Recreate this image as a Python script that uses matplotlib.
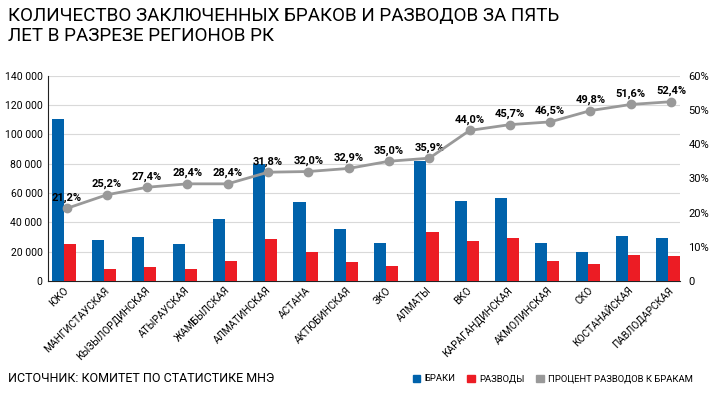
import matplotlib
matplotlib.use("Agg")
import matplotlib.pyplot as plt
from matplotlib.patches import Patch
import numpy as np

regions = ["ЮКО", "МАНГИСТАУСКАЯ", "КЫЗЫЛОРДИНСКАЯ", "АТЫРАУСКАЯ", "ЖАМБЫЛСКАЯ",
           "АЛМАТИНСКАЯ", "АСТАНА", "АКТЮБИНСКАЯ", "ЗКО", "АЛМАТЫ", "ВКО",
           "КАРАГАНДИНСКАЯ", "АКМОЛИНСКАЯ", "СКО", "КОСТАНАЙСКАЯ", "ПАВЛОДАРСКАЯ"]
marriages = [110500, 28000, 29800, 25400, 42500, 80000, 53900, 35700,
             25900, 81900, 54800, 56600, 26100, 19800, 30500, 29100]
divorces = [25500, 7900, 9300, 8000, 13600, 28900, 19500, 13200,
            10000, 33200, 27300, 29100, 13900, 11400, 18000, 17300]
percent = [21.2, 25.2, 27.4, 28.4, 28.4, 31.8, 32.0, 32.9,
           35.0, 35.9, 44.0, 45.7, 46.5, 49.8, 51.6, 52.4]
left_ticks = [0, 20000, 40000, 60000, 80000, 100000, 120000, 140000]
right_ticks = [0, 10, 20, 30, 40, 50, 60]

BLUE = "#0062AB"
RED = "#EC1C24"
GRAY = "#999999"
NARROW = ["Liberation Sans Narrow", "Roboto", "DejaVu Sans"]

fig = plt.figure(figsize=(7.2, 3.96), dpi=100)
ax = fig.add_axes([0.0667, 0.2904, 0.8777, 0.5184])
x = np.arange(len(regions))
w = 0.3
ax.bar(x - w / 2, marriages, width=w, color=BLUE, zorder=3)
ax.bar(x + w / 2, divorces, width=w, color=RED, zorder=3)
ax.set_ylim(0, 140000)
ax.set_xlim(-0.39, 15.29)
ax.set_yticks(left_ticks)
ax.set_yticklabels([f"{v:,}".replace(",", " ") if v else "0" for v in left_ticks],
                   family=NARROW, fontsize=7.5)
ax.grid(axis="y", color="#d9d9d9", linewidth=0.8, zorder=0)
ax.set_axisbelow(True)
for s in ["top", "right"]:
    ax.spines[s].set_visible(False)
ax.spines["left"].set_color("#222222")
ax.spines["bottom"].set_color("#222222")
ax.tick_params(axis="y", length=0, pad=4)
ax.tick_params(axis="x", length=0, pad=3)
ax.set_xticks(x)
ax.set_xticklabels(regions, rotation=45, ha="right", rotation_mode="anchor",
                   family=NARROW, fontsize=7.3)

ax2 = ax.twinx()
ax2.set_ylim(0, 60)
ax2.plot(x + 0.07, percent, color=GRAY, linewidth=2, marker="o", markersize=6, zorder=4)
for xi, p in zip(x, percent):
    ax2.annotate(f"{p:.1f}%".replace(".", ","), (xi + 0.07, p), xytext=(0, 4),
                 textcoords="offset points", ha="center", va="bottom",
                 fontsize=8, fontweight="bold", family=NARROW)
ax2.set_yticks(right_ticks)
ax2.set_yticklabels([f"{t}%" if t else "0" for t in right_ticks], family=NARROW, fontsize=8)
ax2.tick_params(axis="y", length=0, pad=6)
for s in ["top", "right", "left", "bottom"]:
    ax2.spines[s].set_visible(False)

fig.text(0.011, 0.982, "КОЛИЧЕСТВО ЗАКЛЮЧЕННЫХ БРАКОВ И РАЗВОДОВ ЗА ПЯТЬ\nЛЕТ В РАЗРЕЗЕ РЕГИОНОВ РК",
         ha="left", va="top", fontsize=13.6, family=NARROW, linespacing=1.1)
fig.text(0.011, 0.043, "ИСТОЧНИК: КОМИТЕТ ПО СТАТИСТИКЕ МНЭ", ha="left", va="center",
         fontsize=9.0, family=NARROW)

handles = [Patch(color=BLUE, label="БРАКИ"), Patch(color=RED, label="РАЗВОДЫ"),
           Patch(color=GRAY, label="ПРОЦЕНТ РАЗВОДОВ К БРАКАМ")]
fig.legend(handles=handles, loc="center right", bbox_to_anchor=(0.962, 0.043), ncol=3,
           frameon=False, prop={"family": NARROW, "size": 6.8}, handlelength=0.75,
           handleheight=0.75, handletextpad=0.45, columnspacing=1.3, borderpad=0,
           borderaxespad=0)

fig.savefig("out.png", dpi=100)
